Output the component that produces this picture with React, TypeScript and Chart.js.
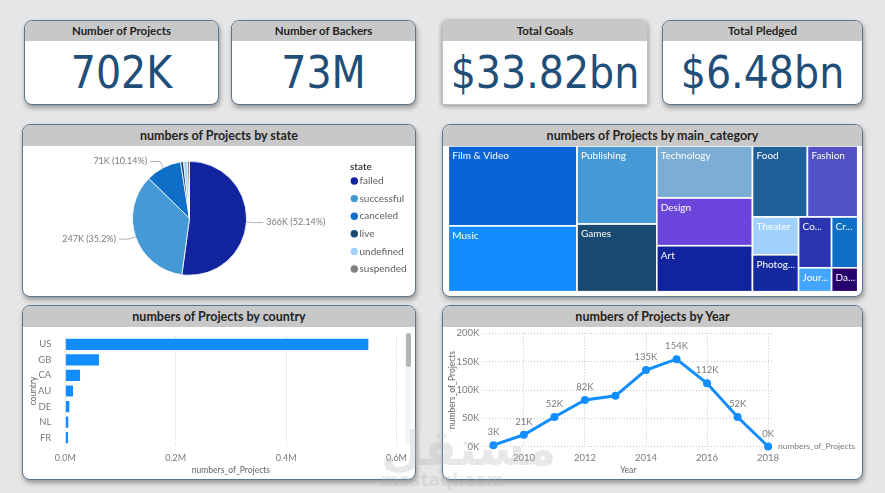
import React, { useEffect, useRef } from "react";
import { Chart, registerables } from "chart.js";

Chart.register(...registerables);

const FONT = "Lato, 'Open Sans', sans-serif";
Chart.defaults.font.family = FONT;

// ---------- data ----------
const kpiTitles = ["Number of Projects", "Number of Backers", "Total Goals", "Total Pledged"];
const kpiValues = ["702K", "73M", "$33.82bn", "$6.48bn"];

const stateLabels = ["failed", "successful", "canceled", "live", "undefined", "suspended"];
const stateValues = [366.0, 247.1, 71.2, 5.9, 7.6, 4.2]; // thousands
const stateColors = ["#12239E", "#4599D4", "#0F6EC5", "#1A4A72", "#A0D1FF", "#808080"];

const categoryLabels = [
  "Film & Video", "Music", "Publishing", "Games", "Technology", "Design", "Art",
  "Food", "Fashion", "Theater", "Photography", "Comics", "Crafts", "Journalism", "Dance",
];
const categoryValues = [124, 102, 75, 65, 60, 55, 53, 47, 43, 21, 20.5, 20.2, 16, 9.5, 7.5]; // thousands
const categoryColors = [
  "#0B64D6", "#118DFF", "#4599D4", "#1A4A72", "#7BADD5", "#6B44DC", "#12239E",
  "#1F5F9A", "#5150C4", "#A0D1FF", "#1428A0", "#2B35AF", "#0F6EC5", "#44A5FF", "#27006E",
];

const countryLabels = ["US", "GB", "CA", "AU", "DE", "NL", "FR"];
const countryValues = [0.549, 0.061, 0.0267, 0.014, 0.0073, 0.0055, 0.005]; // millions
const countryTicks = [0, 0.2, 0.4, 0.6];

const years = [2009, 2010, 2011, 2012, 2013, 2014, 2015, 2016, 2017, 2018];
const yearValues = [2.7, 21.0, 52.3, 82.3, 89.7, 135.2, 154.4, 111.9, 52.4, 0.3]; // thousands
const yearLabelShown = [true, true, true, true, false, true, true, true, true, true];
const yearTicks = [2010, 2012, 2014, 2016, 2018];
const projectTicks = [0, 50, 100, 150, 200];

// ---------- helpers ----------
function ChartBox({ make, style }: { make: () => any; style: React.CSSProperties }) {
  const ref = useRef<HTMLCanvasElement>(null);
  useEffect(() => {
    const chart = new Chart(ref.current as HTMLCanvasElement, make());
    return () => chart.destroy();
  }, []);
  return (
    <div style={{ position: "absolute", ...style }}>
      <canvas ref={ref} />
    </div>
  );
}

function Card({ left, top, width, height, title, header = 21, titleSize = 12.5, radius = "8px", border = "1px solid #5b7590", shadow = "1px 3px 5px rgba(0,0,0,0.35)", children }: any) {
  return (
    <div
      style={{
        position: "absolute", left, top, width, height, boxSizing: "border-box",
        background: "#fff", border, borderRadius: radius, boxShadow: shadow, overflow: "hidden",
      }}
    >
      <div
        style={{
          height: header, background: "#c8c8c8", display: "flex", alignItems: "center",
          justifyContent: "center", fontFamily: FONT, fontWeight: 700, fontSize: titleSize, color: "#252423",
        }}
      >
        {title}
      </div>
      {children}
    </div>
  );
}

// ---------- pie ----------
const pieLabelsPlugin = {
  id: "pieLabels",
  afterDraw(chart: any) {
    const ctx = chart.ctx;
    const meta = chart.getDatasetMeta(0);
    const total = stateValues.reduce((a, b) => a + b, 0);
    ctx.save();
    ctx.font = `9px ${FONT}`;
    meta.data.forEach((arc: any, i: number) => {
      const v = stateValues[i];
      const pct = (v / total) * 100;
      if (pct < 5) return;
      const { x, y, startAngle, endAngle, outerRadius } = arc.getProps(["x", "y", "startAngle", "endAngle", "outerRadius"], true);
      const mid = (startAngle + endAngle) / 2;
      const c = Math.cos(mid), s = Math.sin(mid);
      const p0x = x + c * outerRadius, p0y = y + s * outerRadius;
      const p1x = x + c * (outerRadius + 7), p1y = y + s * (outerRadius + 7);
      const right = c >= 0;
      const p2x = p1x + (right ? 10 : -10);
      ctx.strokeStyle = "#b0b0b0";
      ctx.lineWidth = 1;
      ctx.beginPath();
      ctx.moveTo(p0x, p0y);
      ctx.lineTo(p1x, p1y);
      ctx.lineTo(p2x, p1y);
      ctx.stroke();
      ctx.fillStyle = "#7a7a7a";
      ctx.textAlign = right ? "left" : "right";
      ctx.textBaseline = "middle";
      const txt = `${Math.round(v)}K (${parseFloat(pct.toFixed(2))}%)`;
      ctx.fillText(txt, p2x + (right ? 3 : -3), p1y);
    });
    ctx.restore();
  },
};

const pieLegendPlugin = {
  id: "pieLegend",
  afterDraw(chart: any) {
    const ctx = chart.ctx;
    ctx.save();
    ctx.textBaseline = "middle";
    ctx.textAlign = "left";
    ctx.font = `600 10px ${FONT}`;
    ctx.fillStyle = "#333";
    ctx.fillText("state", 327, 21);
    ctx.font = `10px ${FONT}`;
    stateLabels.forEach((lab, i) => {
      const y = 35 + i * 17.6;
      ctx.fillStyle = stateColors[i];
      ctx.beginPath();
      ctx.arc(331.3, y, 3.7, 0, Math.PI * 2);
      ctx.fill();
      ctx.fillStyle = "#605e5c";
      ctx.fillText(lab, 336.5, y);
    });
    ctx.restore();
  },
};

const makePie = () => ({
  type: "pie",
  data: {
    labels: stateLabels,
    datasets: [{ data: stateValues, backgroundColor: stateColors, borderColor: "#ffffff", borderWidth: 0.8, radius: 57 }],
  },
  options: {
    animation: false, responsive: true, maintainAspectRatio: false,
    layout: { padding: { left: 0, top: 0, right: 59, bottom: 5.4 } },
    plugins: { legend: { display: false }, tooltip: { enabled: false } },
  },
  plugins: [pieLabelsPlugin, pieLegendPlugin],
});

// ---------- treemap (squarified, golden ratio) ----------
function squarify(values: number[], x0: number, y0: number, x1: number, y1: number) {
  const ratio = (1 + Math.sqrt(5)) / 2;
  const rects: any[] = new Array(values.length);
  const n = values.length;
  let i0 = 0, i1 = 0;
  let value = values.reduce((a, b) => a + b, 0);
  while (i0 < n) {
    const dx = x1 - x0, dy = y1 - y0;
    let sumValue = values[i1++];
    let minValue = sumValue, maxValue = sumValue;
    const alpha = Math.max(dy / dx, dx / dy) / (value * ratio);
    let beta = sumValue * sumValue * alpha;
    let minRatio = Math.max(maxValue / beta, beta / minValue);
    for (; i1 < n; ++i1) {
      const nv = values[i1];
      sumValue += nv;
      if (nv < minValue) minValue = nv;
      if (nv > maxValue) maxValue = nv;
      beta = sumValue * sumValue * alpha;
      const newRatio = Math.max(maxValue / beta, beta / minValue);
      if (newRatio > minRatio) { sumValue -= nv; break; }
      minRatio = newRatio;
    }
    if (dx < dy) {
      const ry = value ? y0 + (dy * sumValue) / value : y1;
      let x = x0;
      for (let i = i0; i < i1; i++) {
        const w = ((x1 - x0) * values[i]) / sumValue;
        rects[i] = { x0: x, y0, x1: x + w, y1: ry };
        x += w;
      }
      y0 = ry;
    } else {
      const rx = value ? x0 + (dx * sumValue) / value : x1;
      let y = y0;
      for (let i = i0; i < i1; i++) {
        const h = ((y1 - y0) * values[i]) / sumValue;
        rects[i] = { x0, y0: y, x1: rx, y1: y + h };
        y += h;
      }
      x0 = rx;
    }
    value -= sumValue;
    i0 = i1;
  }
  return rects;
}

const treemapPlugin = {
  id: "treemap",
  afterDraw(chart: any) {
    const ctx = chart.ctx;
    const xs = chart.scales.x, ys = chart.scales.y;
    const L = xs.getPixelForValue(0), R = xs.getPixelForValue(1);
    const T = ys.getPixelForValue(1), B = ys.getPixelForValue(0);
    const rects = squarify(categoryValues, L, T, R, B);
    ctx.save();
    rects.forEach((r: any, i: number) => {
      ctx.fillStyle = categoryColors[i];
      ctx.fillRect(r.x0, r.y0, r.x1 - r.x0, r.y1 - r.y0);
      ctx.strokeStyle = "#ffffff";
      ctx.lineWidth = 1.6;
      ctx.strokeRect(r.x0, r.y0, r.x1 - r.x0, r.y1 - r.y0);
    });
    ctx.font = `10px ${FONT}`;
    ctx.fillStyle = "#ffffff";
    ctx.textAlign = "left";
    ctx.textBaseline = "middle";
    rects.forEach((r: any, i: number) => {
      const avail = r.x1 - r.x0 - 6.5;
      let txt = categoryLabels[i];
      if (ctx.measureText(txt).width > avail) {
        let k = txt.length;
        while (k > 1 && ctx.measureText(txt.slice(0, k) + "...").width > avail) k--;
        txt = txt.slice(0, k) + "...";
      }
      ctx.fillText(txt, r.x0 + 4, r.y0 + 10);
    });
    ctx.restore();
  },
};

const makeTreemap = () => ({
  type: "scatter",
  data: { datasets: [{ data: [] as any[] }] },
  options: {
    animation: false, responsive: true, maintainAspectRatio: false,
    layout: { padding: { left: 5.3, right: 4.3, top: 0, bottom: 4.3 } },
    plugins: { legend: { display: false }, tooltip: { enabled: false } },
    scales: {
      x: { type: "linear", min: 0, max: 1, display: false },
      y: { type: "linear", min: 0, max: 1, display: false },
    },
  },
  plugins: [treemapPlugin],
});

// ---------- bar ----------
const tickFont = { size: 9, family: FONT };
const makeBar = () => ({
  type: "bar",
  data: {
    labels: countryLabels,
    datasets: [{ data: countryValues, backgroundColor: "#118DFF", barPercentage: 0.72, categoryPercentage: 1 }],
  },
  options: {
    indexAxis: "y",
    animation: false, responsive: true, maintainAspectRatio: false,
    layout: { padding: { left: 0, top: 9.5, right: 18.5, bottom: 0 } },
    plugins: { legend: { display: false }, tooltip: { enabled: false } },
    scales: {
      x: {
        type: "linear", min: 0, max: 0.6,
        afterBuildTicks: (s: any) => { s.ticks = countryTicks.map((v) => ({ value: v })); },
        afterFit: (s: any) => { s.height = 33.5; s.paddingLeft = 0; s.paddingRight = 0; },
        ticks: { callback: (v: any) => Number(v).toFixed(1) + "M", color: "#7a7a7a", font: tickFont, padding: 7, maxRotation: 0 },
        grid: { color: "#c8c8c8", lineWidth: 1, drawTicks: false },
        border: { display: false, dash: [1, 2] },
        title: { display: true, text: "numbers_of_Projects", color: "#666", font: { size: 8.5, family: FONT }, padding: { top: 0, bottom: 4 } },
      },
      y: {
        afterFit: (s: any) => { s.width = 42.3; s.paddingTop = 0; s.paddingBottom = 0; },
        ticks: { color: "#7a7a7a", font: { size: 9.5, family: FONT }, padding: 6 },
        grid: { display: false },
        border: { display: false },
        title: { display: true, text: "country", color: "#666", font: { size: 8.5, family: FONT }, padding: { top: 5, bottom: 0 } },
      },
    },
  },
});

// ---------- line ----------
const lineLabelsPlugin = {
  id: "lineLabels",
  afterDatasetsDraw(chart: any) {
    const ctx = chart.ctx;
    const meta = chart.getDatasetMeta(0);
    ctx.save();
    ctx.font = `9.5px ${FONT}`;
    ctx.fillStyle = "#7a7a7a";
    ctx.textAlign = "center";
    ctx.textBaseline = "middle";
    meta.data.forEach((pt: any, i: number) => {
      if (!yearLabelShown[i]) return;
      ctx.fillText(`${Math.round(yearValues[i])}K`, pt.x, pt.y - 13);
    });
    const last = meta.data[meta.data.length - 1];
    ctx.textAlign = "left";
    ctx.font = `8.4px ${FONT}`;
    ctx.fillText(chart.data.datasets[0].label, last.x + 10, last.y);
    ctx.restore();
  },
};

const makeLine = () => ({
  type: "line",
  data: {
    datasets: [{
      label: "numbers_of_Projects",
      data: years.map((y, i) => ({ x: y, y: yearValues[i] })),
      borderColor: "#118DFF", backgroundColor: "#118DFF", borderWidth: 3,
      pointRadius: 4, pointBackgroundColor: "#118DFF", pointBorderWidth: 0, tension: 0, clip: false,
    }],
  },
  options: {
    animation: false, responsive: true, maintainAspectRatio: false,
    layout: { padding: { left: 0, top: 6.3, right: 88.7, bottom: 0 } },
    plugins: { legend: { display: false }, tooltip: { enabled: false } },
    scales: {
      x: {
        type: "linear", min: 2008.67, max: 2018.17,
        afterBuildTicks: (s: any) => { s.ticks = yearTicks.map((v) => ({ value: v })); },
        afterFit: (s: any) => { s.height = 32.3; s.paddingLeft = 0; s.paddingRight = 0; },
        ticks: { callback: (v: any) => String(v), color: "#7a7a7a", font: { size: 9.5, family: FONT }, padding: 6, maxRotation: 0 },
        grid: { color: "#c8c8c8", drawTicks: false },
        border: { display: false, dash: [1, 2] },
        title: { display: true, text: "Year", color: "#666", font: { size: 8.5, family: FONT }, padding: { top: 0, bottom: 4 } },
      },
      y: {
        min: 0, max: 200,
        afterBuildTicks: (s: any) => { s.ticks = projectTicks.map((v) => ({ value: v })); },
        afterFit: (s: any) => { s.width = 40.3; s.paddingTop = 0; s.paddingBottom = 0; },
        ticks: { callback: (v: any) => `${v}K`, color: "#7a7a7a", font: { size: 9.5, family: FONT }, padding: 4 },
        grid: { color: "#c8c8c8", drawTicks: false },
        border: { display: false, dash: [1, 2] },
        title: { display: true, text: "numbers_of_Projects", color: "#666", font: { size: 8.5, family: FONT }, padding: { top: 4.3, bottom: 0 } },
      },
    },
  },
  plugins: [lineLabelsPlugin],
});

// ---------- app ----------
const kpiBoxes = [
  { left: 24, width: 195 },
  { left: 231, width: 185 },
  { left: 442, width: 206 },
  { left: 662, width: 201 },
];

export default function App() {
  return (
    <div style={{ position: "fixed", left: 0, top: 0, width: 885, height: 493, background: "#e6e6e6", overflow: "hidden", fontFamily: FONT }}>
      {kpiTitles.map((t, i) => (
        <Card
          key={t}
          left={kpiBoxes[i].left}
          top={19.5}
          width={kpiBoxes[i].width}
          height={85}
          title={t}
          header={20}
          titleSize={11.5}
          radius={i === 2 ? "6px 6px 1px 1px" : "8px"}
          border={i === 2 ? "1px solid #b8c2cc" : "1px solid #5b7590"}
          shadow={i === 2 ? "0 1px 5px rgba(0,0,0,0.4)" : "1px 3px 5px rgba(0,0,0,0.35)"}
        >
          <div
            style={{
              position: "absolute", left: 0, right: 0, top: 30, height: 44, lineHeight: "44px",
              textAlign: "center", fontFamily: "'DejaVu Sans Condensed', 'DejaVu Sans', sans-serif",
              fontSize: 44, color: "#1f4e79",
            }}
          >
            {kpiValues[i]}
          </div>
        </Card>
      ))}

      <Card left={22} top={124} width={394} height={173} title="numbers of Projects by state">
        <ChartBox make={makePie} style={{ left: 0, top: 21, width: 392, height: 150 }} />
      </Card>

      <Card left={442} top={124} width={421} height={173} title="numbers of Projects by main_category">
        <ChartBox make={makeTreemap} style={{ left: 0, top: 21, width: 419, height: 150 }} />
      </Card>

      <Card left={22} top={305} width={394} height={175} title="numbers of Projects by country">
        <ChartBox make={makeBar} style={{ left: 0, top: 21, width: 392, height: 152 }} />
        <div style={{ position: "absolute", left: 382, top: 27, width: 6, height: 112, background: "rgba(0,0,0,0.04)", borderRadius: 3 }} />
        <div style={{ position: "absolute", left: 382.5, top: 27, width: 5, height: 34, background: "#b4b4b4", borderRadius: 3 }} />
      </Card>

      <Card left={442} top={305} width={421} height={175} title="numbers of Projects by Year">
        <ChartBox make={makeLine} style={{ left: 0, top: 21, width: 419, height: 152 }} />
      </Card>

      <div style={{ position: "absolute", left: 381, top: 420, width: 120, textAlign: "center", pointerEvents: "none", color: "rgba(180,180,180,0.3)", fontFamily: "'DejaVu Sans', sans-serif", fontWeight: 700, whiteSpace: "nowrap" }}>
        <div style={{ fontSize: 48, lineHeight: "56px" }}>مستقل</div>
        <div style={{ fontSize: 17, lineHeight: "20px", marginTop: -6 }}>mostaql.com</div>
      </div>
    </div>
  );
}
